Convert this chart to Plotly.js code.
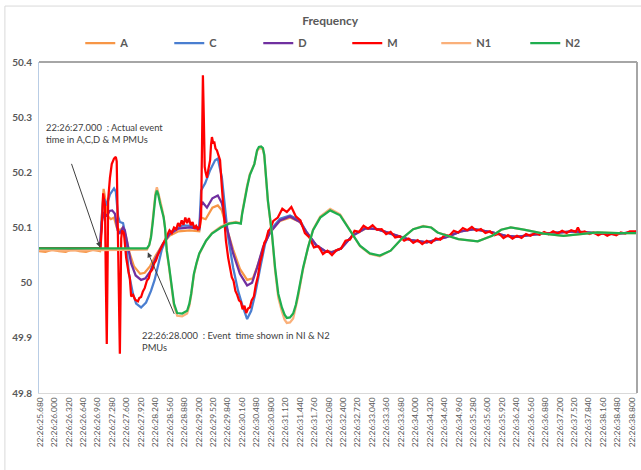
<!DOCTYPE html>
<html>
<head>
<meta charset="utf-8">
<script src="https://cdn.plot.ly/plotly-3.0.1.min.js"></script>
<style>html,body{margin:0;padding:0;background:#fff;}#chart{width:641px;height:470px;}</style>
</head>
<body>
<div id="chart"></div>
<script>
// time in seconds after 22:26:00, frequency in Hz
const seriesA = [[25.658,50.057],[25.80,50.056],[25.95,50.060],[26.10,50.057],[26.25,50.056],[26.40,50.061],[26.55,50.057],[26.70,50.056],[26.85,50.060],[27.01,50.057],
[27.05,50.12],[27.09,50.17],[27.13,50.15],[27.18,50.12],[27.25,50.115],[27.32,50.118],[27.38,50.10],[27.45,50.095],[27.52,50.10],[27.58,50.085],
[27.66,50.055],[27.76,50.03],[27.90,50.016],[28.00,50.018],[28.12,50.03],[28.25,50.05],[28.40,50.07],[28.55,50.085],[28.75,50.093],[29.00,50.095],
[29.21,50.093],[29.25,50.118],[29.35,50.115],[29.50,50.136],[29.62,50.14],[29.71,50.131],[29.82,50.098],[29.96,50.06],[30.11,50.025],[30.27,50.005],
[30.40,50.008],[30.52,50.035],[30.65,50.07],[30.80,50.095],[31.00,50.112],[31.22,50.118],[31.44,50.11],
[31.60,50.09],[31.80,50.068],[32.00,50.057],[32.15,50.056],[32.35,50.062],[32.60,50.085],[32.90,50.098],[33.15,50.097],[33.50,50.087],[33.90,50.077],
[34.25,50.073],[34.70,50.083],[35.00,50.093],[35.30,50.097],[35.70,50.091],[36.00,50.085],[36.25,50.083],[36.60,50.087],[37.00,50.09],[37.50,50.093],
[38.00,50.09],[38.40,50.088],[38.909,50.092]];

const seriesC = [[25.658,50.062],[27.01,50.062],[27.05,50.12],[27.08,50.15],[27.12,50.15],[27.16,50.14],[27.23,50.16],[27.32,50.171],[27.36,50.165],[27.41,50.12],
[27.45,50.11],[27.52,50.108],[27.54,50.10],[27.59,50.071],[27.65,50.016],[27.74,49.98],[27.81,49.962],[27.92,49.955],[28.03,49.964],[28.14,49.985],
[28.22,50.005],[28.30,50.035],[28.38,50.06],[28.49,50.082],[28.63,50.095],[28.85,50.104],[29.05,50.103],[29.21,50.10],[29.25,50.167],[29.29,50.173],
[29.34,50.18],[29.45,50.204],[29.56,50.222],[29.62,50.225],[29.71,50.191],[29.78,50.136],[29.85,50.082],[29.96,50.027],[30.07,49.985],[30.18,49.955],
[30.27,49.934],[30.36,49.949],[30.45,49.98],[30.56,50.027],[30.67,50.071],[30.78,50.095],[31.00,50.116],[31.22,50.122],[31.44,50.113],
[31.60,50.09],[31.80,50.068],[32.00,50.057],[32.15,50.055],[32.35,50.062],[32.60,50.085],[32.90,50.099],[33.15,50.097],[33.50,50.087],[33.90,50.077],
[34.25,50.073],[34.70,50.083],[35.00,50.093],[35.30,50.097],[35.70,50.091],[36.00,50.085],[36.25,50.083],[36.60,50.087],[37.00,50.09],[37.50,50.093],
[38.00,50.09],[38.40,50.088],[38.909,50.092]];

const seriesD = [[25.658,50.062],[27.01,50.062],[27.05,50.11],[27.10,50.128],[27.16,50.12],[27.22,50.13],[27.28,50.131],[27.34,50.125],[27.40,50.095],[27.45,50.09],
[27.52,50.10],[27.56,50.095],[27.62,50.07],[27.70,50.035],[27.80,50.013],[27.92,50.005],[28.02,50.008],[28.12,50.02],[28.25,50.045],[28.40,50.07],
[28.55,50.088],[28.75,50.098],[29.00,50.10],[29.21,50.097],[29.25,50.14],[29.29,50.145],[29.38,50.136],[29.50,50.153],[29.62,50.158],[29.71,50.144],
[29.82,50.10],[29.96,50.053],[30.11,50.016],[30.27,49.995],[30.38,50.0],[30.49,50.027],[30.62,50.064],[30.78,50.091],[31.00,50.113],[31.22,50.12],[31.44,50.11],
[31.60,50.09],[31.80,50.068],[32.00,50.057],[32.15,50.055],[32.35,50.062],[32.60,50.085],[32.90,50.099],[33.15,50.097],[33.50,50.087],[33.90,50.077],
[34.25,50.073],[34.70,50.083],[35.00,50.093],[35.30,50.097],[35.70,50.091],[36.00,50.085],[36.25,50.083],[36.60,50.087],[37.00,50.09],[37.50,50.093],
[38.00,50.09],[38.40,50.088],[38.909,50.092]];

const seriesM = [[25.658,50.062],[26.40,50.062],[27.02,50.062],
[27.05,50.10],[27.08,50.162],[27.10,50.15],[27.12,50.14],[27.14,50.0],[27.16,49.889],[27.18,50.05],[27.19,50.15],[27.23,50.19],[27.27,50.215],[27.32,50.225],
[27.36,50.228],[27.38,50.22],[27.40,50.1],[27.45,49.871],[27.48,50.08],[27.50,50.095],[27.54,50.09],[27.59,50.045],[27.64,50.02],[27.67,50.009],
[27.70,49.975],[27.74,49.978],[27.79,49.969],[27.85,49.966],[27.88,49.972],[27.92,49.974],[27.96,49.984],[28.00,49.99],[28.05,50.004],[28.09,50.008],
[28.12,50.018],[28.17,50.024],[28.21,50.035],[28.25,50.04],[28.29,50.05],[28.35,50.06],[28.41,50.071],[28.45,50.076],[28.50,50.087],
[28.55,50.095],[28.60,50.090],[28.65,50.100],[28.70,50.097],[28.74,50.108],[28.78,50.102],[28.82,50.113],[28.86,50.105],[28.90,50.118],[28.94,50.108],
[28.98,50.117],[29.02,50.104],[29.06,50.110],[29.10,50.098],[29.14,50.103],[29.18,50.097],[29.22,50.101],
[29.25,50.12],[29.27,50.30],[29.29,50.376],[29.31,50.30],[29.33,50.21],[29.35,50.20],[29.38,50.19],[29.41,50.205],[29.45,50.222],[29.47,50.25],
[29.49,50.264],[29.52,50.252],[29.54,50.256],[29.57,50.243],[29.60,50.24],[29.63,50.232],[29.67,50.222],[29.71,50.173],[29.76,50.125],[29.80,50.076],
[29.85,50.045],[29.89,50.027],[29.93,50.01],[29.97,50.003],[30.01,49.985],[30.05,49.978],[30.09,49.968],[30.13,49.965],[30.17,49.952],[30.21,49.958],
[30.25,49.945],[30.29,49.953],[30.33,49.955],[30.37,49.968],[30.42,49.975],[30.46,49.995],[30.51,50.012],[30.56,50.038],[30.60,50.05],[30.65,50.072],
[30.69,50.078],[30.74,50.094],[30.78,50.097],
[30.85,50.112],[30.95,50.118],[31.05,50.134],[31.15,50.128],[31.25,50.137],[31.35,50.120],[31.45,50.113],[31.55,50.09],[31.65,50.082],[31.75,50.064],
[31.85,50.066],[31.95,50.052],[32.05,50.058],[32.15,50.050],[32.25,50.059],[32.35,50.062],[32.45,50.076],[32.55,50.078],[32.65,50.094],[32.75,50.092],
[32.85,50.103],[32.95,50.098],[33.05,50.104],[33.15,50.096],[33.25,50.097],[33.35,50.088],[33.45,50.092],[33.55,50.082],[33.65,50.084],[33.75,50.076],
[33.85,50.080],[33.95,50.072],[34.05,50.077],[34.15,50.070],[34.25,50.076],[34.35,50.072],[34.45,50.080],[34.55,50.078],[34.65,50.087],[34.75,50.085],
[34.85,50.094],[34.95,50.091],[35.05,50.099],[35.15,50.095],[35.25,50.101],[35.35,50.094],[35.45,50.097],[35.55,50.090],[35.65,50.093],[35.75,50.086],
[35.85,50.089],[35.95,50.081],[36.05,50.086],[36.15,50.080],[36.25,50.085],[36.35,50.081],[36.45,50.088],[36.55,50.085],[36.65,50.090],[36.75,50.087],
[36.85,50.092],[36.95,50.088],[37.05,50.093],[37.15,50.089],[37.25,50.094],[37.35,50.090],[37.45,50.095],[37.55,50.092],[37.60,50.100],[37.65,50.091],
[37.75,50.093],[37.85,50.088],[37.95,50.091],[38.05,50.086],[38.15,50.090],[38.25,50.085],[38.35,50.089],[38.45,50.086],[38.55,50.091],[38.65,50.089],
[38.75,50.093],[38.909,50.093]];

const seriesN1 = [[25.658,50.059],[26.30,50.058],[27.00,50.059],[28.05,50.06],[28.10,50.068],[28.14,50.085],[28.18,50.115],[28.21,50.14],[28.24,50.163],[28.27,50.173],
[28.30,50.165],[28.34,50.15],[28.38,50.136],[28.42,50.12],[28.45,50.10],[28.49,50.056],[28.54,50.027],[28.58,50.0],[28.65,49.958],[28.72,49.94],
[28.83,49.939],[28.94,49.944],[28.99,49.958],[29.03,49.977],[29.09,50.014],[29.15,50.035],[29.21,50.052],[29.36,50.076],[29.49,50.09],[29.69,50.102],
[29.87,50.108],[30.02,50.11],[30.13,50.108],[30.16,50.127],[30.21,50.152],[30.27,50.176],[30.33,50.197],[30.38,50.207],[30.43,50.215],[30.49,50.238],
[30.53,50.243],[30.58,50.244],[30.62,50.241],[30.65,50.23],[30.67,50.213],[30.70,50.178],[30.73,50.147],[30.78,50.112],[30.82,50.087],[30.89,50.022],
[30.96,49.973],[31.04,49.948],[31.10,49.933],[31.15,49.927],[31.22,49.928],[31.29,49.935],[31.35,49.955],[31.40,49.975],[31.51,50.025],[31.62,50.064],
[31.73,50.096],[31.89,50.12],[32.11,50.134],[32.33,50.124],[32.55,50.095],[32.77,50.066],[32.99,50.052],[33.21,50.048],[33.45,50.058],[33.70,50.08],
[33.95,50.097],[34.17,50.103],[34.35,50.10],[34.49,50.091],[34.71,50.085],[34.95,50.079],[35.38,50.075],[35.70,50.085],[35.90,50.096],[36.11,50.10],
[36.40,50.096],[36.84,50.089],[37.28,50.085],[37.70,50.088],[38.03,50.091],[38.50,50.09],[38.909,50.09]];

const seriesN2 = [[25.658,50.062],[28.05,50.062],[28.10,50.068],[28.14,50.082],[28.18,50.11],[28.21,50.136],[28.24,50.158],[28.27,50.167],[28.30,50.16],[28.34,50.144],
[28.38,50.131],[28.42,50.118],[28.45,50.10],[28.49,50.058],[28.54,50.03],[28.58,50.004],[28.65,49.962],[28.72,49.945],[28.83,49.944],[28.94,49.949],
[28.99,49.962],[29.03,49.98],[29.09,50.016],[29.15,50.036],[29.21,50.053],[29.36,50.076],[29.49,50.089],[29.69,50.10],[29.87,50.107],[30.02,50.109],
[30.13,50.107],[30.16,50.125],[30.21,50.15],[30.27,50.173],[30.33,50.195],[30.38,50.205],[30.43,50.215],[30.49,50.24],[30.53,50.246],[30.58,50.247],
[30.62,50.244],[30.65,50.232],[30.67,50.215],[30.70,50.18],[30.73,50.149],[30.78,50.115],[30.82,50.089],[30.89,50.027],[30.96,49.98],[31.04,49.955],
[31.10,49.942],[31.15,49.936],[31.22,49.937],[31.29,49.944],[31.35,49.96],[31.40,49.98],[31.51,50.027],[31.62,50.064],[31.73,50.095],[31.89,50.118],
[32.11,50.131],[32.33,50.122],[32.55,50.095],[32.77,50.067],[32.99,50.053],[33.21,50.049],[33.45,50.058],[33.70,50.08],[33.95,50.097],[34.17,50.102],
[34.35,50.10],[34.49,50.091],[34.71,50.085],[34.95,50.079],[35.38,50.075],[35.70,50.085],[35.90,50.096],[36.11,50.10],[36.40,50.096],[36.84,50.089],
[37.28,50.085],[37.70,50.088],[38.03,50.091],[38.50,50.09],[38.909,50.09]];

const seriesNames = ["A","C","D","M","N1","N2"];
const seriesColors = ["#f79646","#4a7ed0","#7030a0","#ff0000","#fab07a","#1fae4f"];

const xTickVals = [25.68,26.00,26.32,26.64,26.96,27.28,27.60,27.92,28.24,28.56,28.88,29.20,29.52,29.84,30.16,30.48,30.80,31.12,31.44,31.76,
32.08,32.40,32.72,33.04,33.36,33.68,34.00,34.32,34.64,34.96,35.28,35.60,35.92,36.24,36.56,36.88,37.20,37.52,37.84,38.16,38.48,38.80];
const xTickLabels = ["22:26:25.680","22:26:26.000","22:26:26.320","22:26:26.640","22:26:26.960","22:26:27.280","22:26:27.600","22:26:27.920",
"22:26:28.240","22:26:28.560","22:26:28.880","22:26:29.200","22:26:29.520","22:26:29.840","22:26:30.160","22:26:30.480","22:26:30.800",
"22:26:31.120","22:26:31.440","22:26:31.760","22:26:32.080","22:26:32.400","22:26:32.720","22:26:33.040","22:26:33.360","22:26:33.680",
"22:26:34.000","22:26:34.320","22:26:34.640","22:26:34.960","22:26:35.280","22:26:35.600","22:26:35.920","22:26:36.240","22:26:36.560",
"22:26:36.880","22:26:37.200","22:26:37.520","22:26:37.840","22:26:38.160","22:26:38.480","22:26:38.800"];
const yTickVals = [49.8,49.9,50.0,50.1,50.2,50.3,50.4];
const yTickLabels = ["49.8","49.9","50","50.1","50.2","50.3","50.4"];

const allSeries = [seriesA, seriesC, seriesD, seriesM, seriesN1, seriesN2];
const traces = allSeries.map((s, i) => ({
  type: "scatter", mode: "lines",
  name: seriesNames[i],
  x: s.map(p => p[0]), y: s.map(p => p[1]),
  line: {color: seriesColors[i], width: 2.25},
  hoverinfo: "skip"
}));

const FONT = "Lato, 'Open Sans', sans-serif";
const layout = {
  width: 641, height: 470,
  margin: {l: 39, r: 4, t: 62, b: 77},
  paper_bgcolor: "#ffffff", plot_bgcolor: "#ffffff",
  font: {family: FONT, color: "#595959"},
  title: {text: "<b>Frequency</b>", font: {size: 12, color: "#595959", family: FONT},
          x: 0.515, xanchor: "center", y: 0.955, yanchor: "middle", xref: "container", yref: "container"},
  showlegend: true,
  legend: {orientation: "h", x: 0.069, xanchor: "left", y: 1.057, yanchor: "middle",
           font: {size: 11, color: "#595959", family: FONT, weight: "bold"}, entrywidth: 44, bgcolor: "rgba(0,0,0,0)", traceorder: "normal"},
  xaxis: {range: [25.658, 38.909], tickmode: "array", tickvals: xTickVals, ticktext: xTickLabels,
          tickangle: -90, tickfont: {size: 8.4, color: "#595959", family: FONT},
          showgrid: false, zeroline: false, showline: true, linecolor: "#d9d9d9", linewidth: 1,
          ticks: "", fixedrange: true},
  yaxis: {range: [49.8, 50.4], tickmode: "array", tickvals: yTickVals, ticktext: yTickLabels,
          tickfont: {size: 10, color: "#595959", family: FONT, weight: "bold"}, ticklabelstandoff: 4,
          showgrid: false, zeroline: false, showline: true, linecolor: "#b9cde5", linewidth: 1,
          ticks: "", fixedrange: true},
  shapes: [
    {type: "line", xref: "paper", yref: "paper", x0: 0, x1: 1, y0: 1, y1: 1, line: {color: "#a6a6a6", width: 2}},
    {type: "line", xref: "paper", yref: "paper", x0: 1, x1: 1, y0: 0, y1: 1, line: {color: "#a6a6a6", width: 2}},
    {type: "line", xref: "paper", yref: "paper", x0: -0.057, x1: 1.02, y0: 1.169, y1: 1.169, line: {color: "#d9d9d9", width: 1}},
    {type: "line", xref: "paper", yref: "paper", x0: -0.057, x1: -0.057, y0: -0.25, y1: 1.169, line: {color: "#d9d9d9", width: 1}}
  ],
  annotations: [
    {x: 25.77, y: 50.271, xref: "x", yref: "y", xanchor: "left", yanchor: "middle", align: "left", showarrow: false,
     text: "22:26:27.000  : Actual event<br>time in A,C,D &amp; M PMUs", font: {size: 9.4, color: "#404040", family: FONT}},
    {x: 27.01, y: 50.064, xref: "x", yref: "y", text: "", showarrow: true, ax: -29, ay: -85,
     arrowhead: 2, arrowsize: 1, arrowwidth: 1, arrowcolor: "#404040"},
    {x: 27.896, y: 49.894, xref: "x", yref: "y", xanchor: "left", yanchor: "middle", align: "left", showarrow: false,
     text: "22:26:28.000  : Event  time shown in NI &amp; N2<br>PMUs", font: {size: 9.4, color: "#404040", family: FONT}},
    {x: 28.07, y: 50.055, xref: "x", yref: "y", text: "", showarrow: true, ax: 27, ay: 63,
     arrowhead: 2, arrowsize: 1, arrowwidth: 1, arrowcolor: "#404040"}
  ]
};

Plotly.newPlot("chart", traces, layout, {staticPlot: true, displayModeBar: false});
</script>
</body>
</html>
